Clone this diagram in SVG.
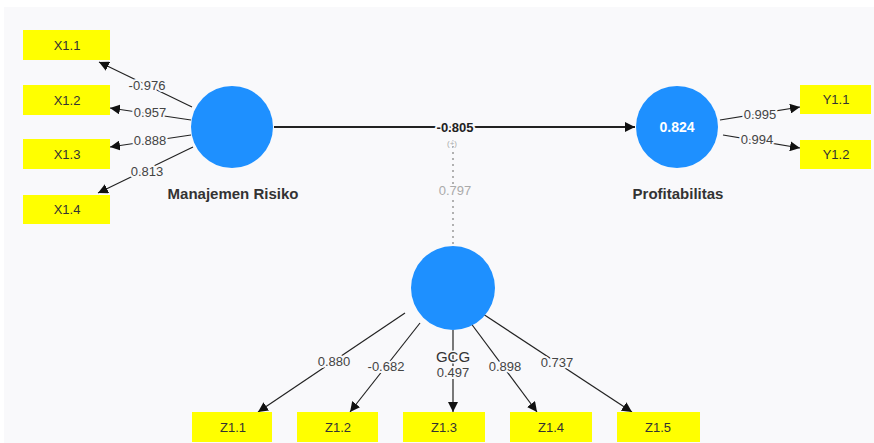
<svg xmlns="http://www.w3.org/2000/svg" width="874" height="443" viewBox="0 0 874 443">
<defs>
<style>
.bg{fill:#f9f9fb}
.lv{fill:#1e90ff}
.ind{fill:#ffff00}
.itxt{font-family:"Liberation Sans",Arial,sans-serif;font-size:13px;fill:#333;text-anchor:middle}
.ntxt{font-family:"Liberation Sans",Arial,sans-serif;font-size:15px;font-weight:bold;fill:#333;text-anchor:middle}
.edge{stroke:#222;stroke-width:1.2;fill:none;marker-end:url(#ah)}
.lbl{font-family:"Liberation Sans",Arial,sans-serif;font-size:13px;fill:#444;text-anchor:middle;stroke:#f9f9fb;stroke-width:4;paint-order:stroke;stroke-linejoin:round}
</style>
<marker id="ah" viewBox="0 0 10 10" refX="10" refY="5" markerWidth="10" markerHeight="10" markerUnits="userSpaceOnUse" orient="auto">
<path d="M0,0 L10,5 L0,10 z" fill="#111"/>
</marker>
</defs>
<rect width="874" height="443" fill="#ffffff"/>
<rect x="4" y="7" width="870" height="436" class="bg"/>

<g id="connectors">
<line class="edge" x1="274" y1="127" x2="635" y2="127" style="stroke-width:1.8"/>
<line x1="453" y1="140" x2="453" y2="246" stroke="#999" stroke-width="1.5" stroke-dasharray="2,4"/>
<line class="edge" x1="192" y1="107" x2="99" y2="62"/>
<line class="edge" x1="191" y1="120" x2="110" y2="108"/>
<line class="edge" x1="191" y1="135" x2="110" y2="147"/>
<line class="edge" x1="193" y1="147" x2="98" y2="193"/>
<line class="edge" x1="720" y1="120" x2="800" y2="107"/>
<line class="edge" x1="723" y1="135" x2="800" y2="148"/>
<line class="edge" x1="405" y1="313" x2="258" y2="412"/>
<line class="edge" x1="420" y1="323" x2="350" y2="412"/>
<line class="edge" x1="453" y1="330" x2="453" y2="412"/>
<line class="edge" x1="470" y1="322" x2="537" y2="412"/>
<line class="edge" x1="480" y1="312" x2="632" y2="412"/>
<text class="lbl" x="455" y="132" style="font-weight:bold;fill:#222">-0.805</text>
<text class="lbl" x="452" y="146" style="font-size:8px;fill:#aaa;stroke-width:2">(+)</text>
<text class="lbl" x="455" y="195" style="fill:#aaa">0.797</text>
<text class="lbl" x="147" y="90">-0.976</text>
<text class="lbl" x="150" y="117">0.957</text>
<text class="lbl" x="150" y="145">0.888</text>
<text class="lbl" x="147" y="176">0.813</text>
<text class="lbl" x="760" y="119">0.995</text>
<text class="lbl" x="757" y="144">0.994</text>
<text class="lbl" x="334" y="366">0.880</text>
<text class="lbl" x="386" y="371">-0.682</text>
<text class="lbl" x="453" y="377">0.497</text>
<text class="lbl" x="505" y="371">0.898</text>
<text class="lbl" x="557" y="367">0.737</text>
</g>

<g id="manajemen-risiko">
<circle class="lv" cx="232" cy="127" r="41"/>
<text class="ntxt" x="233" y="199">Manajemen Risiko</text>
</g>
<g id="profitabilitas">
<circle class="lv" cx="677" cy="127" r="41"/>
<text x="677" y="132" style="font-family:'Liberation Sans',Arial,sans-serif;font-size:14px;font-weight:bold;fill:#fff;text-anchor:middle">0.824</text>
<text class="ntxt" x="678" y="199">Profitabilitas</text>
</g>
<g id="gcg">
<circle class="lv" cx="453" cy="288" r="42"/>
<text x="453" y="362" style="font-family:'Liberation Sans',Arial,sans-serif;font-size:15px;fill:#333;text-anchor:middle;stroke:#f9f9fb;stroke-width:3;paint-order:stroke">GCG</text>
</g>

<g id="x1-1"><rect class="ind" x="23" y="30" width="87" height="30"/><text class="itxt" x="67" y="50">X1.1</text></g>
<g id="x1-2"><rect class="ind" x="23" y="85" width="87" height="30"/><text class="itxt" x="67" y="105">X1.2</text></g>
<g id="x1-3"><rect class="ind" x="23" y="139" width="87" height="30"/><text class="itxt" x="67" y="159">X1.3</text></g>
<g id="x1-4"><rect class="ind" x="23" y="195" width="87" height="29"/><text class="itxt" x="67" y="214">X1.4</text></g>
<g id="y1-1"><rect class="ind" x="800" y="85" width="71" height="29"/><text class="itxt" x="836" y="104">Y1.1</text></g>
<g id="y1-2"><rect class="ind" x="800" y="140" width="71" height="29"/><text class="itxt" x="836" y="159">Y1.2</text></g>
<g id="z1-1"><rect class="ind" x="192" y="412" width="80" height="30"/><text class="itxt" x="233" y="432">Z1.1</text></g>
<g id="z1-2"><rect class="ind" x="297" y="412" width="81" height="30"/><text class="itxt" x="338" y="432">Z1.2</text></g>
<g id="z1-3"><rect class="ind" x="403" y="412" width="82" height="30"/><text class="itxt" x="444" y="432">Z1.3</text></g>
<g id="z1-4"><rect class="ind" x="510" y="412" width="82" height="30"/><text class="itxt" x="551" y="432">Z1.4</text></g>
<g id="z1-5"><rect class="ind" x="617" y="412" width="83" height="30"/><text class="itxt" x="658" y="432">Z1.5</text></g>
</svg>
